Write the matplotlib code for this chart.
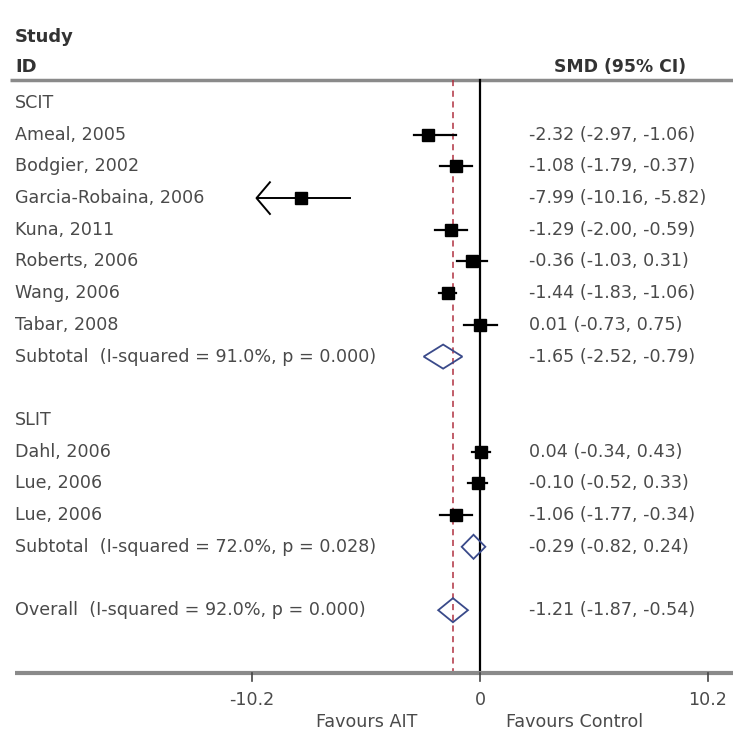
import matplotlib
matplotlib.use("Agg")
import matplotlib.pyplot as plt
import matplotlib.transforms as mtransforms

# study rows
studies = ["Ameal, 2005", "Bodgier, 2002", "Garcia-Robaina, 2006", "Kuna, 2011",
           "Roberts, 2006", "Wang, 2006", "Tabar, 2008",
           "Dahl, 2006", "Lue, 2006", "Lue, 2006"]
study_rows = [1, 2, 3, 4, 5, 6, 7, 11, 12, 13]
smd = [-2.32, -1.08, -7.99, -1.29, -0.36, -1.44, 0.01, 0.04, -0.10, -1.06]
ci_low = [-2.97, -1.79, -10.16, -2.00, -1.03, -1.83, -0.73, -0.34, -0.52, -1.77]
ci_high = [-1.06, -0.37, -5.82, -0.59, 0.31, -1.06, 0.75, 0.43, 0.33, -0.34]
arrow_left = [False, False, True, False, False, False, False, False, False, False]

# pooled rows
pooled_labels = ["Subtotal  (I-squared = 91.0%, p = 0.000)",
                 "Subtotal  (I-squared = 72.0%, p = 0.028)",
                 "Overall  (I-squared = 92.0%, p = 0.000)"]
pooled_rows = [8, 14, 16]
pooled_est = [-1.65, -0.29, -1.21]
pooled_low = [-2.52, -0.82, -1.87]
pooled_high = [-0.79, 0.24, -0.54]

groups = ["SCIT", "SLIT"]
group_rows = [0, 10]

xticks = [-10.2, 0, 10.2]
xtick_labels = ["-10.2", "0", "10.2"]
overall_effect = -1.21

W, H = 733, 734
ZERO_PX, PX_PER_UNIT = 480, 22.35
ROW0_PX, ROW_PX = 103, 31.7

TEXT = "#4a4a4a"
GRID = "#8a8a8a"
plt.rcParams["font.family"] = ["DejaVu Sans"]

fig = plt.figure(figsize=(W / 100, H / 100), dpi=100)
ax = fig.add_axes([0, 0, 1, 1])
ax.set_xlim(-ZERO_PX / PX_PER_UNIT, (W - ZERO_PX) / PX_PER_UNIT)
ax.set_ylim((H - ROW0_PX) / ROW_PX, -ROW0_PX / ROW_PX)
ax.axis("off")


def row_at(py):
    return (py - ROW0_PX) / ROW_PX


left = mtransforms.blended_transform_factory(ax.transAxes, ax.transData)
fs = 12.6
txt_x = 15 / W
ci_x = 529 / W

# header
ax.text(txt_x, row_at(37), "Study", transform=left, fontsize=13, color="#333",
        fontweight="bold", va="center")
ax.text(txt_x, row_at(67), "ID", transform=left, fontsize=13, color="#333",
        fontweight="bold", va="center")
ax.text(554 / W, row_at(67), "SMD (95% CI)", transform=left, fontsize=12.4, color="#333",
        fontweight="bold", va="center")

top = row_at(80)
bottom = row_at(673)
ax.plot([10 / W, 1], [top, top], transform=left, color=GRID, lw=2.5, solid_capstyle="butt")

# reference lines
ax.plot([0, 0], [top, bottom], color="black", lw=1.6, zorder=2)
ax.plot([overall_effect, overall_effect], [top, bottom], color="#b03040",
        lw=1.1, ls=(0, (4, 3)), zorder=2)

for g, r in zip(groups, group_rows):
    ax.text(txt_x, r, g, transform=left, fontsize=fs, color=TEXT, va="center")

for name, r, m, lo, hi, arr in zip(studies, study_rows, smd, ci_low, ci_high, arrow_left):
    ax.text(txt_x, r, name, transform=left, fontsize=fs, color=TEXT, va="center")
    ax.text(ci_x, r, f"{m:.2f} ({lo:.2f}, {hi:.2f})", transform=left, fontsize=fs,
            color=TEXT, va="center")
    if arr:
        lo_draw = -10.0
        ax.plot([lo_draw, hi], [r, r], color="black", lw=1.4, zorder=3)
        ax.plot([lo_draw + 0.6, lo_draw, lo_draw + 0.6], [r - 0.5, r, r + 0.5],
                color="black", lw=1.4, zorder=3)
    else:
        ax.plot([lo, hi], [r, r], color="black", lw=1.6, zorder=3)
    ax.plot(m, r, marker="s", ms=8.5, color="black", zorder=4)

for lab, r, m, lo, hi in zip(pooled_labels, pooled_rows, pooled_est, pooled_low, pooled_high):
    ax.text(txt_x, r, lab, transform=left, fontsize=fs, color=TEXT, va="center")
    ax.text(ci_x, r, f"{m:.2f} ({lo:.2f}, {hi:.2f})", transform=left, fontsize=fs,
            color=TEXT, va="center")
    ax.fill([lo, m, hi, m, lo], [r, r - 0.38, r, r + 0.38, r], facecolor="none",
            edgecolor="#3a4a8a", lw=1.3, zorder=4)

# x axis
ax.plot([15 / W, 1], [bottom, bottom], transform=left, color=GRID, lw=3,
        solid_capstyle="butt")
for t, lab in zip(xticks, xtick_labels):
    ax.plot([t, t], [bottom, bottom + 0.25], color="#444", lw=1.2)
    ax.text(t, row_at(700), lab, fontsize=fs, color=TEXT, ha="center", va="center")

ax.text((367 - ZERO_PX) / PX_PER_UNIT, row_at(722), "Favours AIT", fontsize=fs,
        color=TEXT, ha="center", va="center")
ax.text((575 - ZERO_PX) / PX_PER_UNIT, row_at(722), "Favours Control", fontsize=fs,
        color=TEXT, ha="center", va="center")

fig.savefig("out.png", dpi=100)
